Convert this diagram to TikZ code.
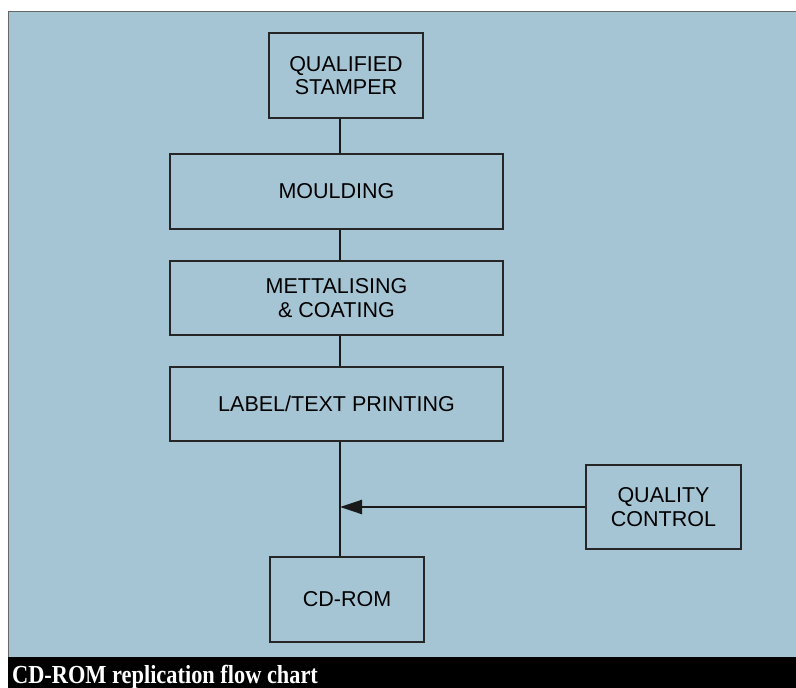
\documentclass[tikz,border=0pt]{standalone}
\usepackage{fontspec}
\newfontfamily\boxfont{Liberation Sans}
\newfontfamily\capfont{Liberation Serif}
\usepackage{tikz}
\usetikzlibrary{arrows.meta}
\definecolor{panel}{RGB}{165,197,212}
\tikzset{%
  tipQ/.tip={Triangle[length=22pt,width=14pt]},
  stage/.style={draw=black!85, line width=1.8pt, align=center, inner sep=0pt,
    font=\boxfont\fontsize{21.5}{23.5}\selectfont},
  flow/.style={black!90, line width=2.4pt}
}

\begin{document}
\begin{tikzpicture}[x=1pt,y=-1pt]
\useasboundingbox (0,0) rectangle (796,688);
\fill[white] (0,0) rectangle (796,688);
\fill[panel] (8,11) rectangle (796,657);
\draw[black!60, line width=1pt] (8,657) -- (8,11) -- (796,11);
\fill[black] (8,657) rectangle (796,688);
\node[anchor=base west, text=white, inner sep=0pt] (caption) at (12,683)
  {\scalebox{0.86}[1]{\capfont\bfseries\fontsize{26}{28}\selectfont CD-ROM replication flow chart}};
% stages
\node[stage, minimum width=154pt, minimum height=85pt] (stamper) at (346,75.5) {QUALIFIED\\STAMPER};
\node[stage, minimum width=333pt, minimum height=75pt] (mould) at (336.5,191.5) {MOULDING};
\node[stage, minimum width=333pt, minimum height=74pt] (metal) at (336.5,298) {METTALISING\\\& COATING};
\node[stage, minimum width=333pt, minimum height=74pt] (label) at (336.5,404) {LABEL/TEXT PRINTING};
\node[stage, minimum width=155pt, minimum height=84pt] (qc) at (663.5,507) {QUALITY\\CONTROL};
\node[stage, minimum width=154pt, minimum height=85pt] (cdrom) at (347,599.5) {CD-ROM};
\coordinate (trunk) at (340,0);
% links
\draw[flow] (stamper.south -| trunk) -- (mould.north -| trunk);
\draw[flow] (mould.south -| trunk) -- (metal.north -| trunk);
\draw[flow] (metal.south -| trunk) -- (label.north -| trunk);
\draw[flow] (label.south -| trunk) -- (cdrom.north -| trunk);
\draw[flow, -tipQ] (qc.west) -- (qc.west -| trunk);
\end{tikzpicture}
\end{document}
